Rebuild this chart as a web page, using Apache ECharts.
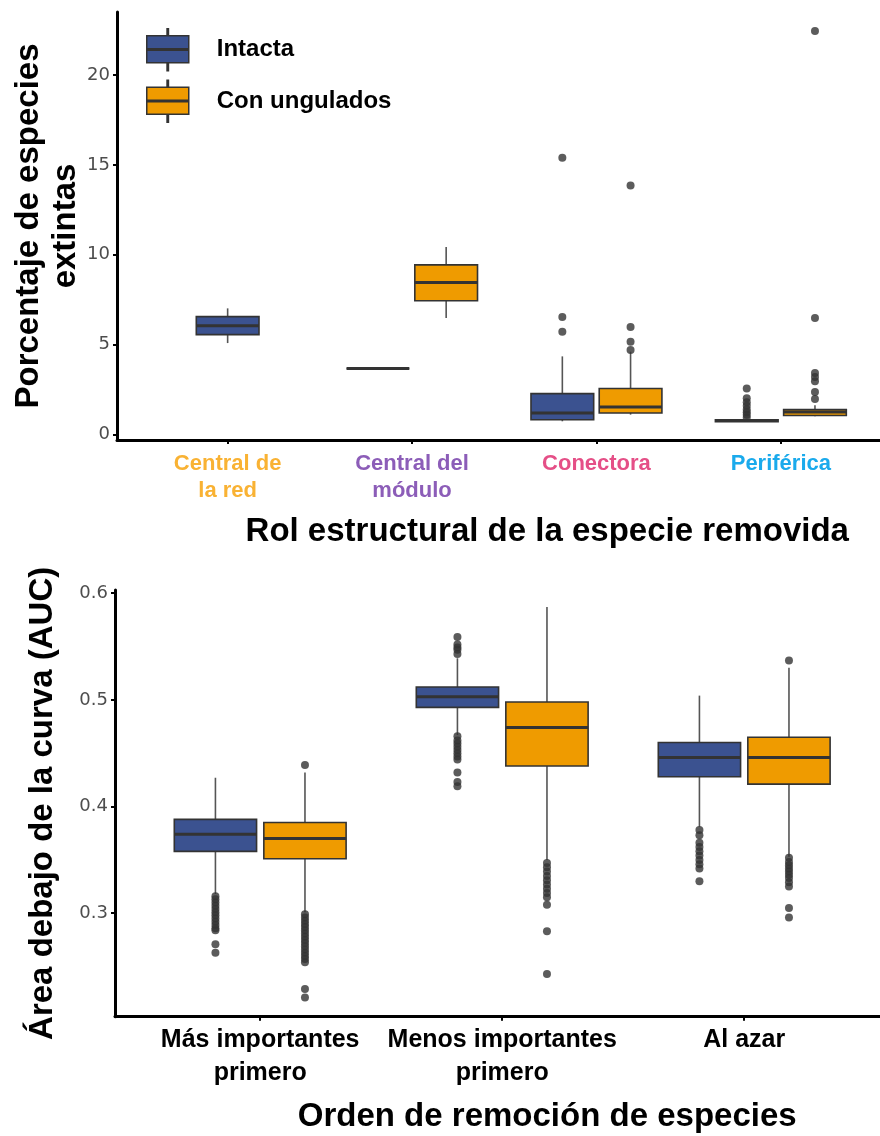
<!DOCTYPE html>
<html><head><meta charset="utf-8">
<script src="https://cdn.jsdelivr.net/npm/echarts@6/dist/echarts.min.js"></script>
<style>html,body{margin:0;padding:0;background:#fff}#c{width:880px;height:1136px}</style>
</head><body><div id="c"></div>
<script>
// ---------- DATA ----------
const seriesNames = ['Intacta', 'Con ungulados'];
const seriesColors = ['#3B5290', '#EF9B00'];

const topCategories = ['Central de\nla red', 'Central del\nmódulo', 'Conectora', 'Periférica'];
const topCategoryColors = ['#F9B233', '#8C5DB8', '#E54F87', '#1AAAEC'];
const topTicks = [0, 5, 10, 15, 20];
// [lower whisker, Q1, median, Q3, upper whisker]
const topIntacta = [
  [5.09, 5.56, 6.06, 6.56, 7.02],
  [3.68, 3.68, 3.68, 3.68, 3.68],
  [0.74, 0.83, 1.20, 2.28, 4.35],
  [0.72, 0.72, 0.78, 0.83, 0.83]
];
const topUngulados = [
  null,
  [6.48, 7.44, 8.46, 9.44, 10.43],
  [1.11, 1.20, 1.54, 2.56, 4.61],
  [1.02, 1.06, 1.26, 1.39, 1.63]
];
const topIntactaOutliers = [[], [], [15.39, 6.54, 5.72], [2.56, 2.02, 1.80, 1.60, 1.40, 1.25, 1.10, 0.95]];
const topUnguladosOutliers = [[], [], [13.85, 5.98, 5.17, 4.70], [22.44, 6.48, 3.43, 3.20, 2.96, 2.37, 1.98]];

const bottomCategories = ['Más importantes\nprimero', 'Menos importantes\nprimero', 'Al azar'];
const bottomTicks = [0.3, 0.4, 0.5, 0.6];
const bottomIntacta = [
  [0.318, 0.358, 0.374, 0.388, 0.427],
  [0.467, 0.493, 0.503, 0.512, 0.539],
  [0.381, 0.428, 0.446, 0.460, 0.504]
];
const bottomUngulados = [
  [0.301, 0.351, 0.370, 0.385, 0.432],
  [0.350, 0.438, 0.474, 0.498, 0.587],
  [0.353, 0.421, 0.446, 0.465, 0.530]
];
const bottomIntactaOutliers = [
  [0.316, 0.313, 0.310, 0.307, 0.304, 0.301, 0.298, 0.295, 0.292, 0.289, 0.286, 0.284, 0.271, 0.263],
  [0.559, 0.552, 0.549, 0.547, 0.543, 0.466, 0.462, 0.459, 0.456, 0.453, 0.450, 0.447, 0.444, 0.432, 0.423, 0.419],
  [0.378, 0.373, 0.366, 0.362, 0.358, 0.354, 0.350, 0.346, 0.342, 0.330]
];
const bottomUnguladosOutliers = [
  [0.439, 0.299, 0.296, 0.293, 0.290, 0.287, 0.284, 0.281, 0.278, 0.275, 0.272, 0.269, 0.266, 0.263, 0.260, 0.257, 0.254, 0.229, 0.221],
  [0.347, 0.343, 0.339, 0.335, 0.331, 0.327, 0.323, 0.319, 0.315, 0.308, 0.283, 0.243],
  [0.537, 0.352, 0.348, 0.345, 0.342, 0.339, 0.336, 0.333, 0.329, 0.325, 0.305, 0.296]
];

// ---------- LAYOUT / STYLE ----------
const DODGE = 0.185, BOX_W = 0.34;
const FONT = '"Liberation Sans", Arial, sans-serif';

function xPos(ci, si, stats) {
  const other = stats[1 - si][ci];
  return ci + 1 + (other ? (si === 0 ? -DODGE : DODGE) : 0);
}
function boxData(stats, si) {
  const out = [];
  stats[si].forEach((s, ci) => { if (s) out.push([xPos(ci, si, stats)].concat(s)); });
  return out;
}
function outlierData(stats, outl, si) {
  const out = [];
  outl[si].forEach((arr, ci) => arr.forEach(v => out.push([xPos(ci, si, stats), v])));
  return out;
}
function boxRender(params, api) {
  const x = api.value(0);
  const lw = api.coord([x, api.value(1)]);
  const q1 = api.coord([x, api.value(2)]);
  const md = api.coord([x, api.value(3)]);
  const q3 = api.coord([x, api.value(4)]);
  const uw = api.coord([x, api.value(5)]);
  const half = api.size([BOX_W, 0])[0] / 2;
  const fill = api.visual('color');
  const ws = { stroke: '#555', lineWidth: 1.6 };
  return {
    type: 'group', children: [
      { type: 'line', shape: { x1: lw[0], y1: lw[1], x2: lw[0], y2: q1[1] }, style: ws },
      { type: 'line', shape: { x1: uw[0], y1: uw[1], x2: uw[0], y2: q3[1] }, style: ws },
      { type: 'rect', shape: { x: md[0] - half, y: q3[1], width: 2 * half, height: Math.max(q1[1] - q3[1], 0) },
        style: { fill: fill, stroke: '#333', lineWidth: 1.6 } },
      { type: 'line', shape: { x1: md[0] - half, y1: md[1], x2: md[0] + half, y2: md[1] },
        style: { stroke: '#333', lineWidth: 3 } }
    ]
  };
}

const topStats = [topIntacta, topUngulados];
const topOut = [topIntactaOutliers, topUnguladosOutliers];
const botStats = [bottomIntacta, bottomUngulados];
const botOut = [bottomIntactaOutliers, bottomUnguladosOutliers];

const series = [];
[[topStats, topOut, 0], [botStats, botOut, 1]].forEach(([st, ou, g]) => {
  [0, 1].forEach(si => {
    series.push({
      type: 'custom', name: seriesNames[si], xAxisIndex: g, yAxisIndex: g,
      itemStyle: { color: seriesColors[si] },
      encode: { x: 0, y: [1, 2, 3, 4, 5] },
      renderItem: boxRender, data: boxData(st, si), z: 2
    });
    series.push({
      type: 'scatter', name: seriesNames[si] + ' (atípicos)', xAxisIndex: g, yAxisIndex: g,
      symbolSize: 8, itemStyle: { color: '#333' }, data: outlierData(st, ou, si), z: 3, silent: true
    });
  });
});

const richTop = {};
topCategoryColors.forEach((c, i) => {
  richTop['c' + i] = { color: c, fontSize: 22, fontWeight: 'bold', fontFamily: FONT, lineHeight: 27 };
});

const axisLineStyle = { color: '#000', width: 3 };
const tickStyle = { color: '#000', width: 2 };
const titleStyle = { fontSize: 33, fontWeight: 'bold', color: '#000', fontFamily: FONT };

const option = {
  animation: false,
  backgroundColor: '#fff',
  textStyle: { fontFamily: FONT },
  legend: {
    data: seriesNames, orient: 'vertical', left: 146, top: 28, padding: 0,
    itemWidth: 42, itemHeight: 42, itemGap: 8, selectedMode: false,
    icon: 'path://M0,7H42V34H0Z M0,20H42V21.5H0Z M20.3,0H21.7V7H20.3Z M20.3,34H21.7V42H20.3Z',
    itemStyle: { borderColor: '#333', borderWidth: 1.5 },
    textStyle: { fontSize: 24, fontWeight: 'bold', color: '#000', padding: [0, 0, 0, 23] }
  },
  grid: [
    { left: 117, top: 12, width: 774.5, height: 428, outerBoundsMode: 'none', containLabel: false },
    { left: 115, top: 590, width: 774.4, height: 426.7, outerBoundsMode: 'none', containLabel: false }
  ],
  xAxis: [
    {
      gridIndex: 0, type: 'value', min: 0.4, max: 4.6, splitLine: { show: false },
      axisLine: { onZero: false, lineStyle: axisLineStyle },
      axisTick: { customValues: [1, 2, 3, 4], length: 4, lineStyle: tickStyle },
      axisLabel: {
        customValues: [1, 2, 3, 4], margin: 10, rich: richTop,
        formatter: v => {
          const i = Math.round(v) - 1;
          return topCategories[i].split('\n').map(l => '{c' + i + '|' + l + '}').join('\n');
        }
      },
      name: 'Rol estructural de la especie removida', nameLocation: 'middle', nameGap: 75, nameMoveOverlap: false,
      nameTextStyle: Object.assign({ padding: [0, 0, 0, 86] }, titleStyle)
    },
    {
      gridIndex: 1, type: 'value', min: 0.4, max: 3.6, splitLine: { show: false },
      axisLine: { onZero: false, lineStyle: axisLineStyle },
      axisTick: { customValues: [1, 2, 3], length: 4, lineStyle: tickStyle },
      axisLabel: {
        customValues: [1, 2, 3], margin: 7, fontSize: 25, fontWeight: 'bold', color: '#000', lineHeight: 33,
        formatter: v => bottomCategories[Math.round(v) - 1]
      },
      name: 'Orden de remoción de especies', nameLocation: 'middle', nameGap: 84, nameMoveOverlap: false,
      nameTextStyle: Object.assign({ padding: [0, 0, 0, 90] }, titleStyle)
    }
  ],
  yAxis: [
    {
      gridIndex: 0, type: 'value', min: -0.3, max: 23.5, splitLine: { show: false },
      axisLine: { onZero: false, lineStyle: axisLineStyle },
      axisTick: { customValues: topTicks, length: 4, lineStyle: tickStyle },
      axisLabel: { customValues: topTicks, margin: 7, fontSize: 18, color: '#4D4D4D', fontFamily: '"DejaVu Sans", sans-serif' },
      name: 'Porcentaje de especies\nextintas', nameLocation: 'middle', nameRotate: 90, nameGap: 33, nameMoveOverlap: false,
      nameTextStyle: Object.assign({ lineHeight: 37 }, titleStyle)
    },
    {
      gridIndex: 1, type: 'value', min: 0.203, max: 0.603, splitLine: { show: false },
      axisLine: { onZero: false, lineStyle: axisLineStyle },
      axisTick: { customValues: bottomTicks, length: 4, lineStyle: tickStyle },
      axisLabel: { customValues: bottomTicks, margin: 7, fontSize: 18, color: '#4D4D4D', fontFamily: '"DejaVu Sans", sans-serif',
        formatter: v => v.toFixed(1) },
      name: 'Área debajo de la curva (AUC)', nameLocation: 'middle', nameRotate: 90, nameGap: 56, nameMoveOverlap: false,
      nameTextStyle: titleStyle
    }
  ],
  series: series
};

const chart = echarts.init(document.getElementById('c'), null, { renderer: 'canvas' });
chart.setOption(option);
</script>
</body></html>
